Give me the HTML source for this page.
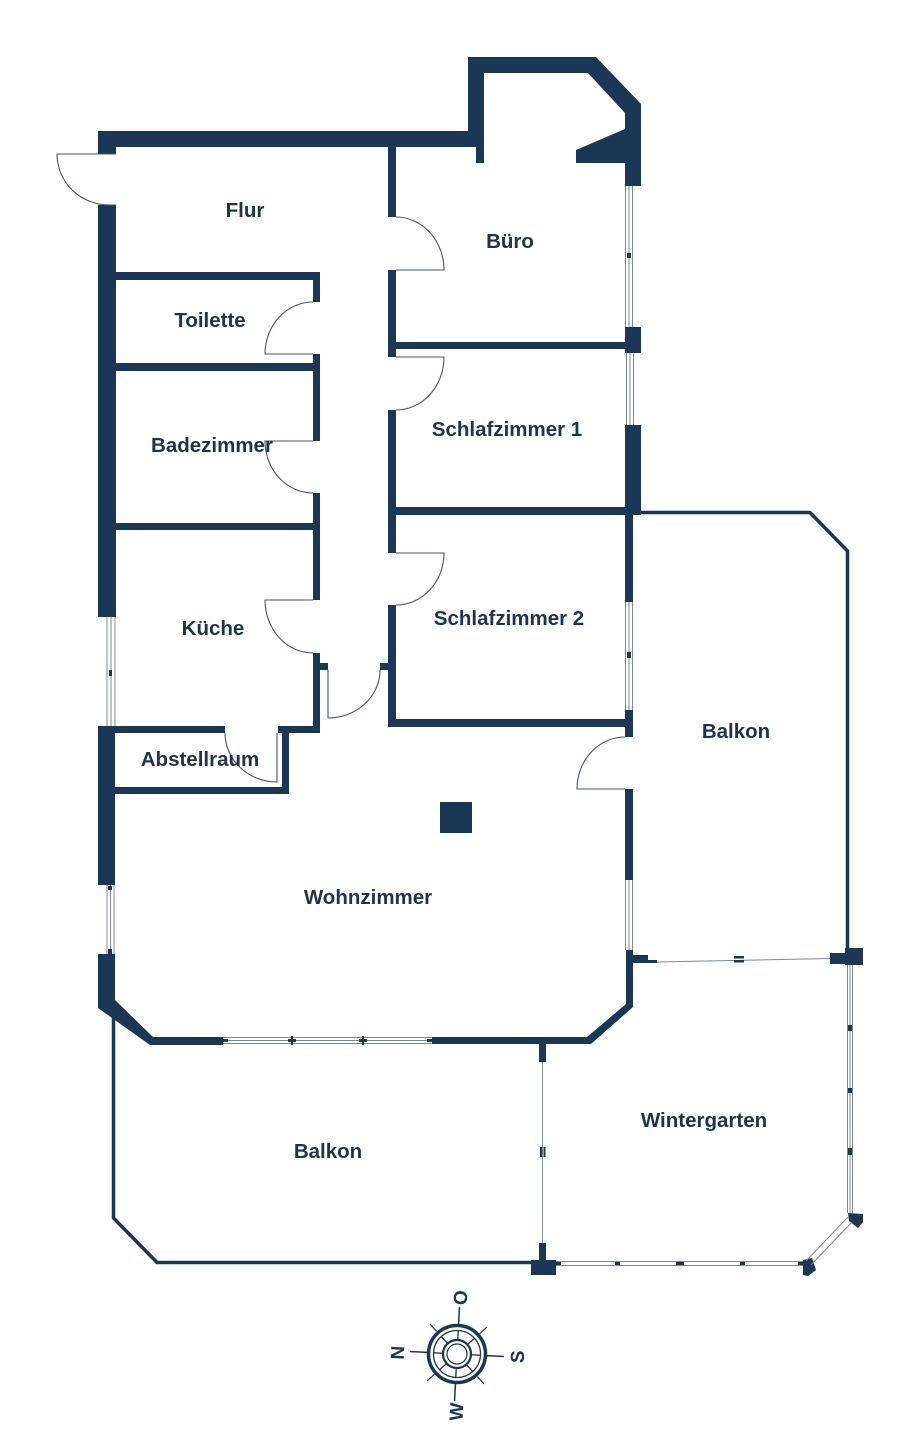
<!DOCTYPE html>
<html><head><meta charset="utf-8">
<style>
html,body{margin:0;padding:0;background:#fff;}
svg{display:block;}
.lbl{font-family:"Liberation Sans",sans-serif;font-weight:bold;font-size:20.5px;fill:#1f3350;text-anchor:middle;}
.cmp{font-family:"Liberation Sans",sans-serif;font-weight:bold;font-size:19px;fill:#1c3656;text-anchor:middle;}
</style></head><body>
<svg width="920" height="1440" viewBox="0 0 920 1440" xmlns="http://www.w3.org/2000/svg">
<rect width="920" height="1440" fill="#fff"/>

<!-- WALLS -->
<g fill="#1c3656">
  <rect x="98" y="131" width="386" height="16"/>
  <rect x="468" y="57" width="16" height="90"/>
  <rect x="476" y="147" width="8" height="16"/>
  <polygon points="468,57 596,57 641,104 641,186 625,186 625,113 588,73 468,73"/>
  <polygon points="576,150 625,129 625,163 576,163"/>
  <rect x="98" y="131" width="18" height="23"/>
  <rect x="98" y="205" width="18" height="412"/>
  <rect x="98" y="726" width="17" height="159"/>
  <polygon points="98,954 115,954 115,1000 153,1037 223,1037 223,1045 150,1045 98,1008"/>
  <rect x="625" y="327" width="16" height="26"/>
  <rect x="625" y="425" width="16" height="90"/>
  <rect x="625" y="515" width="8" height="87"/>
  <rect x="625" y="710" width="8" height="27"/>
  <rect x="625" y="789" width="8" height="91"/>
  <polygon points="626,950 633,950 633,1007 591,1044 432,1044 432,1037 587,1037 626,1004"/>
  <rect x="388" y="147" width="8" height="70"/>
  <rect x="388" y="270" width="8" height="87"/>
  <rect x="388" y="410" width="8" height="143"/>
  <rect x="388" y="605" width="8" height="122"/>
  <rect x="396" y="342" width="229" height="7"/>
  <rect x="396" y="507" width="229" height="8"/>
  <rect x="388" y="719" width="244" height="8"/>
  <rect x="380" y="663" width="8" height="7"/>
  <rect x="116" y="272" width="204" height="8"/>
  <rect x="313" y="272" width="7" height="30"/>
  <rect x="313" y="354" width="7" height="87"/>
  <rect x="313" y="493" width="7" height="107"/>
  <rect x="313" y="653" width="7" height="80"/>
  <rect x="116" y="363" width="204" height="8"/>
  <rect x="116" y="523" width="204" height="7"/>
  <rect x="320" y="663" width="8" height="7"/>
  <rect x="115" y="726" width="110" height="7"/>
  <rect x="278" y="726" width="42" height="7"/>
  <rect x="282" y="726" width="7" height="68"/>
  <rect x="115" y="787" width="174" height="7"/>
  <rect x="440" y="802" width="32" height="31"/>
  <rect x="539" y="1044" width="7" height="18"/>
  <rect x="539" y="1243" width="7" height="19"/>
  <rect x="531" y="1260" width="25" height="15"/>
  <polygon points="803,1260 812,1258 816,1270 808,1276 803,1275"/>
  <polygon points="848,1213 863,1214 863,1222 858,1228 849,1221"/>
  <rect x="632" y="955" width="16" height="8"/>
  <rect x="648" y="960" width="9" height="3"/>
  <rect x="830" y="953" width="20" height="11"/>
  <rect x="845" y="948" width="18" height="17"/>
</g>

<g fill="none" stroke="#1c3656" stroke-width="3.5" stroke-linejoin="miter">
  <polyline points="641,512.5 810,512.5 847.5,551 847.5,950"/>
  <polyline points="113.5,1010 113.5,1218 157,1262.5 531,1262.5"/>
</g>

<g stroke="#7d8896" stroke-width="1" fill="none">
  <line x1="625.5" y1="186" x2="625.5" y2="327"/><line x1="629" y1="186" x2="629" y2="327"/><line x1="632.5" y1="186" x2="632.5" y2="327"/>
  <line x1="626.5" y1="353" x2="626.5" y2="425"/><line x1="630" y1="353" x2="630" y2="425"/><line x1="633.5" y1="353" x2="633.5" y2="425"/>
  <line x1="625.5" y1="602" x2="625.5" y2="710"/><line x1="629" y1="602" x2="629" y2="710"/><line x1="632.5" y1="602" x2="632.5" y2="710"/>
  <line x1="625.5" y1="880" x2="625.5" y2="950"/><line x1="629" y1="880" x2="629" y2="950"/><line x1="632.5" y1="880" x2="632.5" y2="950"/>
  <line x1="107" y1="617" x2="107" y2="726"/><line x1="111" y1="617" x2="111" y2="726"/><line x1="115" y1="617" x2="115" y2="726"/>
  <line x1="107" y1="885" x2="107" y2="954"/><line x1="110.5" y1="885" x2="110.5" y2="954"/><line x1="114" y1="885" x2="114" y2="954"/>
  <line x1="223" y1="1037.5" x2="432" y2="1037.5"/><line x1="223" y1="1040.5" x2="432" y2="1040.5"/><line x1="223" y1="1043.5" x2="432" y2="1043.5"/>
  <line x1="657" y1="962" x2="830" y2="958.5"/>
  <line x1="542.5" y1="1062" x2="542.5" y2="1243"/>
  <line x1="847.5" y1="965" x2="847.5" y2="1213"/><line x1="850" y1="965" x2="850" y2="1213"/><line x1="852.5" y1="965" x2="852.5" y2="1213"/>
  <line x1="556" y1="1261.5" x2="803" y2="1261.5"/><line x1="556" y1="1265.5" x2="803" y2="1265.5"/>
  <line x1="806" y1="1261" x2="848" y2="1217"/><line x1="811" y1="1265" x2="852" y2="1222"/>
</g>
<g fill="#1c3656">
  <rect x="627" y="253" width="4" height="5"/>
  <rect x="627" y="652" width="4" height="6"/>
  <rect x="109" y="670" width="3" height="6"/>
  <rect x="108" y="886" width="4" height="4"/>
  <rect x="108" y="949" width="4" height="5"/>
  <rect x="223" y="1039" width="5" height="3"/>
  <rect x="427" y="1039" width="5" height="3"/>
  <rect x="288" y="1039" width="8" height="3"/><rect x="291" y="1036" width="2" height="9"/>
  <rect x="359" y="1039" width="8" height="3"/><rect x="362" y="1036" width="2" height="9"/>
  <rect x="734" y="956" width="10" height="2.5"/><rect x="734" y="960" width="10" height="2.5"/>
  <rect x="540" y="1147" width="2" height="10"/><rect x="543.5" y="1147" width="2" height="10"/>
  <rect x="848" y="1025" width="4" height="6"/>
  <rect x="848" y="1088" width="4" height="5"/>
  <rect x="848" y="1148" width="4" height="7"/>
  <rect x="556" y="1262" width="5" height="3"/>
  <rect x="615" y="1262" width="5" height="3"/>
  <rect x="676" y="1262" width="8" height="3"/>
  <rect x="740" y="1262" width="5" height="3"/>
  <rect x="798" y="1262" width="5" height="3"/>
</g>

<g fill="none" stroke="#4a5668" stroke-width="1.1">
  <path d="M116,154 H57 A52,51 0 0 0 109,205 H116"/>
  <path d="M396,270 H444 A48,53 0 0 0 396,217"/>
  <path d="M313,354 H265 A48,52 0 0 1 313,302"/>
  <path d="M313,441 H265 A48,52 0 0 0 313,493"/>
  <path d="M313,600 H265 A48,53 0 0 0 313,653"/>
  <path d="M396,357 H444 A48,53 0 0 1 396,410"/>
  <path d="M396,553 H444 A48,52 0 0 1 396,605"/>
  <path d="M328,670 V718 A52,48 0 0 0 380,670"/>
  <path d="M277,733 V782 A52,49 0 0 1 225,733"/>
  <path d="M625,789 H577 A48,52 0 0 1 625,737"/>
</g>

<text class="lbl" x="245" y="217">Flur</text>
<text class="lbl" x="510" y="248">Büro</text>
<text class="lbl" x="210" y="327">Toilette</text>
<text class="lbl" x="507" y="436">Schlafzimmer 1</text>
<text class="lbl" x="212" y="452">Badezimmer</text>
<text class="lbl" x="213" y="635">Küche</text>
<text class="lbl" x="509" y="625">Schlafzimmer 2</text>
<text class="lbl" x="736" y="738">Balkon</text>
<text class="lbl" x="200" y="766">Abstellraum</text>
<text class="lbl" x="368" y="904">Wohnzimmer</text>
<text class="lbl" x="704" y="1127">Wintergarten</text>
<text class="lbl" x="328" y="1158">Balkon</text>

<g transform="translate(457,1354) rotate(3)" fill="none" stroke="#1c3656">
  <circle r="28.5" stroke-width="3.5"/>
  <circle r="23.5" stroke-width="1.3"/>
  <circle r="14" stroke-width="2.2"/>
  <circle r="10" stroke-width="1.2"/>
  <g stroke-width="1.3">
    <line x1="0" y1="-14" x2="0" y2="-23"/>
    <line x1="0" y1="14" x2="0" y2="23"/>
    <line x1="-14" y1="0" x2="-23" y2="0"/>
    <line x1="14" y1="0" x2="23" y2="0"/>
    <line x1="9.9" y1="9.9" x2="16.6" y2="16.6"/>
    <line x1="-9.9" y1="9.9" x2="-16.6" y2="16.6"/>
    <line x1="9.9" y1="-9.9" x2="16.6" y2="-16.6"/>
    <line x1="-9.9" y1="-9.9" x2="-16.6" y2="-16.6"/>
  </g>
  <g stroke-width="1.5">
    <line x1="0" y1="-30" x2="0" y2="-47"/>
    <line x1="0" y1="30" x2="0" y2="47"/>
    <line x1="-30" y1="0" x2="-47" y2="0"/>
    <line x1="30" y1="0" x2="47" y2="0"/>
  </g>
  <g stroke-width="1.2">
    <line x1="21.5" y1="21.5" x2="28.5" y2="28.5"/>
    <line x1="-21.5" y1="21.5" x2="-28.5" y2="28.5"/>
    <line x1="21.5" y1="-21.5" x2="28.5" y2="-28.5"/>
    <line x1="-21.5" y1="-21.5" x2="-28.5" y2="-28.5"/>
  </g>
</g>
<text class="cmp" transform="translate(467,1298) rotate(-87)">O</text>
<text class="cmp" transform="translate(404,1353) rotate(-87)">N</text>
<text class="cmp" transform="translate(524,1357) rotate(-87)">S</text>
<text class="cmp" transform="translate(463,1412) rotate(-87)">W</text>
</svg>
</body></html>
